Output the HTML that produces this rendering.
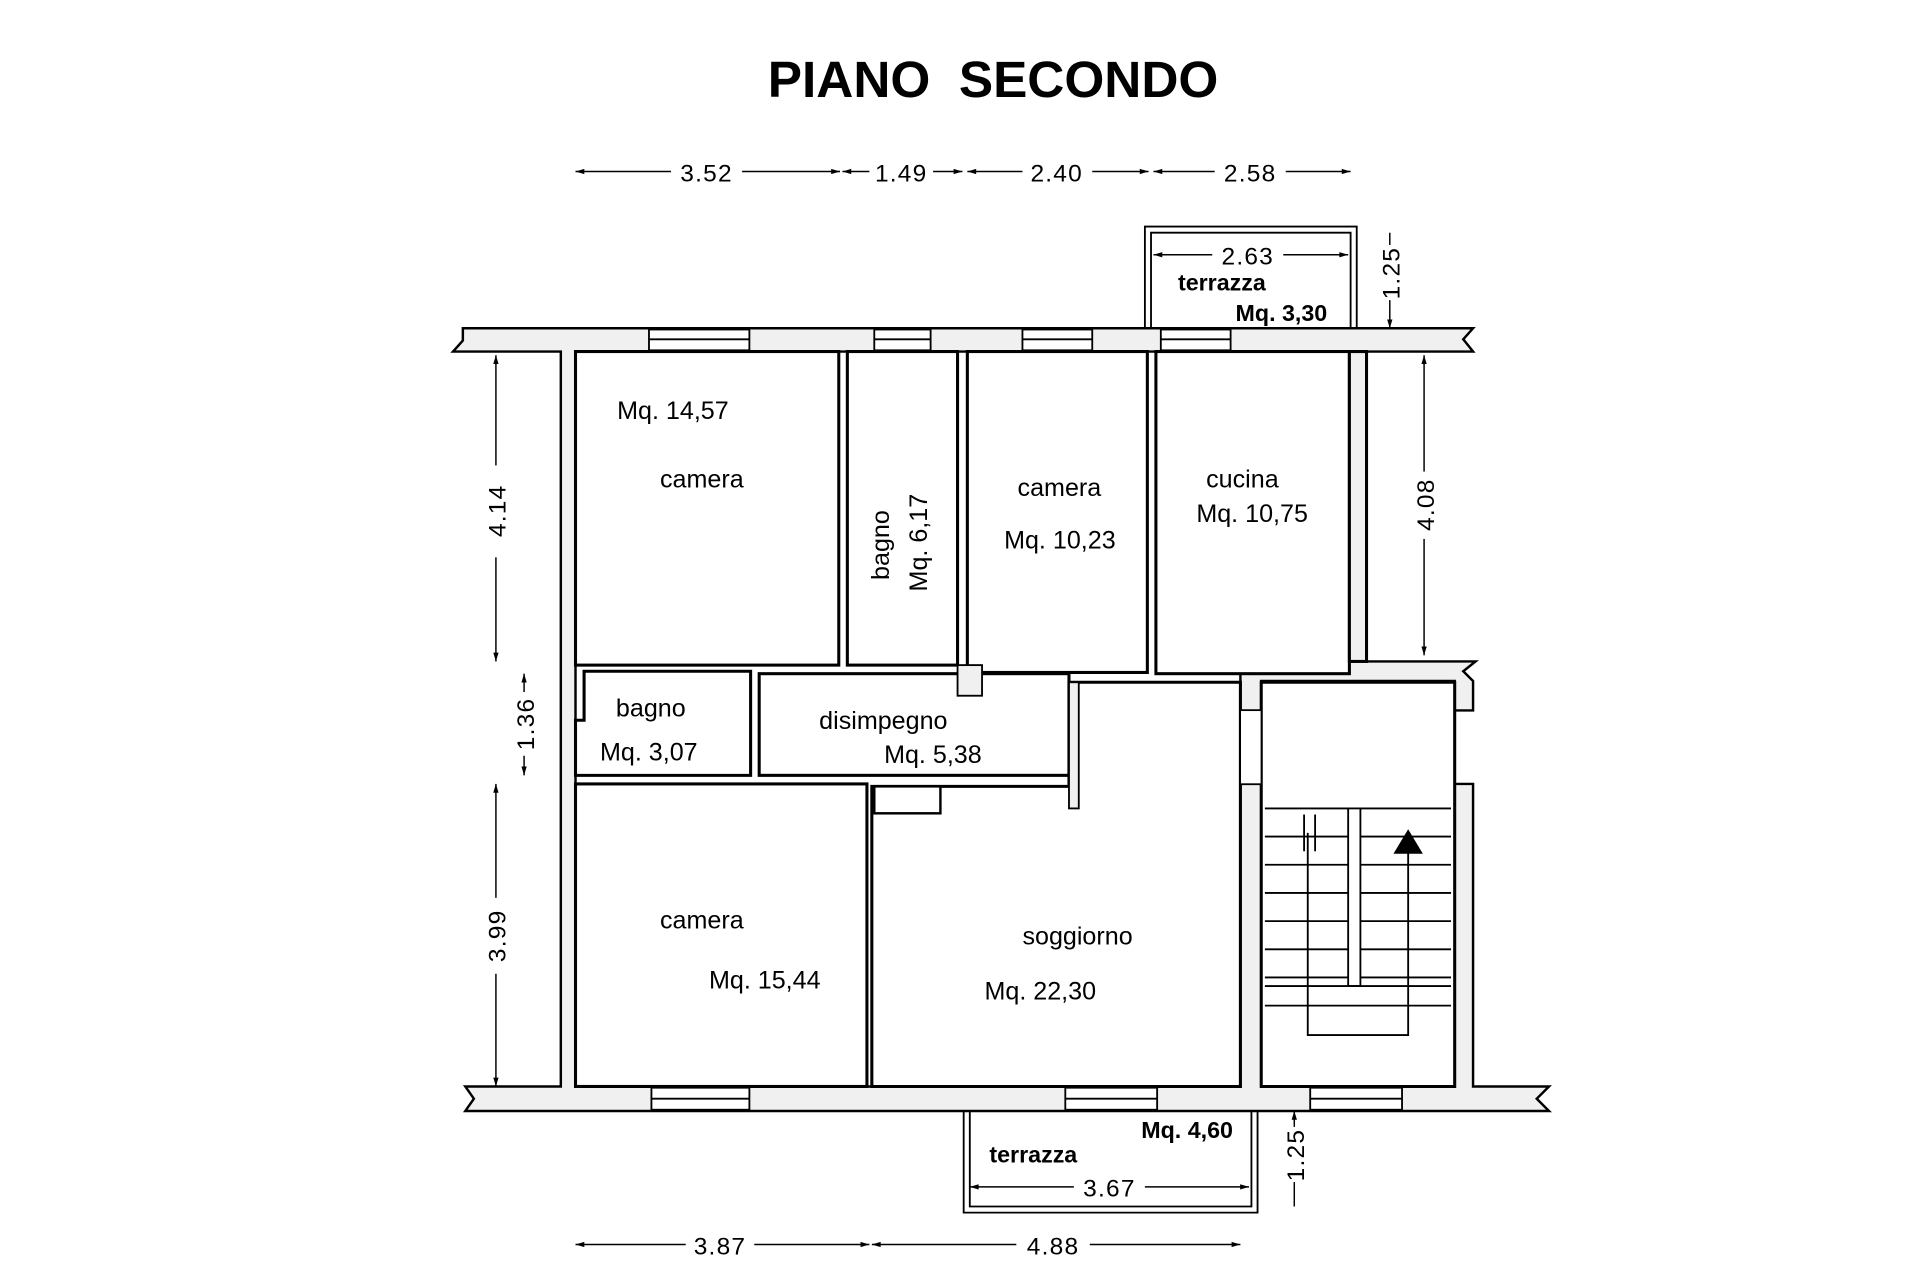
<!DOCTYPE html>
<html><head><meta charset="utf-8"><style>
html,body{margin:0;padding:0;background:#fff;width:1920px;height:1280px;overflow:hidden}
svg{display:block}
text{font-family:"Liberation Sans",Arial,sans-serif;fill:#000}
.d{font-size:20px;letter-spacing:1px}
.l{font-size:20.5px}
</style></head><body>
<svg width="1920" height="1280" viewBox="0 0 1568 1045" preserveAspectRatio="none" xmlns="http://www.w3.org/2000/svg">
<defs>
<marker id="a" viewBox="0 0 10 10" refX="10" refY="5" markerWidth="8" markerHeight="6" orient="auto-start-reverse"><path d="M0,2 L10,5 L0,8 z" fill="#000"/></marker>
</defs>
<text x="627" y="79" font-size="42" font-weight="bold" textLength="368" lengthAdjust="spacingAndGlyphs" xml:space="preserve">PIANO  SECONDO</text>

<g fill="#f0f0f0" stroke="#000" stroke-width="2">
<path d="M378,268 L1203,268 L1195,277 L1203,287 L1116,287 L1116,540 L1205,540 L1195,548 L1203,556 L1203,580 L1188,580 L1188,556 L1030,556 L1030,580 L1013,580 L1013,287 L470,287 L470,887 L1013,887 L1013,640 L1030,640 L1030,887 L1188,887 L1188,640 L1203,640 L1203,887 L1265,887 L1255,897 L1265,907 L380,907 L387,897 L380,887 L458,887 L458,287 L370,287 L378,278 Z"/>
</g>
<g fill="#fff" stroke="#000" stroke-width="2.5">
<rect x="470" y="287" width="215" height="256"/>
<rect x="692" y="287" width="90" height="256"/>
<rect x="790" y="287" width="147" height="262"/>
<rect x="944" y="287" width="158" height="263"/>
<path d="M477,548 L613,548 L613,633 L470,633 L470,588 L477,588 Z"/>
<rect x="620" y="550" width="253" height="83"/>
<rect x="470" y="640" width="238" height="247"/>
<path d="M712,642 L873,642 L873,557 L1013,557 L1013,887 L712,887 Z"/>
<path d="M1030,557 L1188,557 L1188,580 L1188,887 L1030,887 Z"/>
<rect x="1102" y="287" width="14" height="253" fill="#f0f0f0"/>
</g>
<rect x="1013" y="580" width="17" height="60" fill="#fff" stroke="#000" stroke-width="1"/>
<rect x="714" y="642" width="54" height="22" fill="#fff" stroke="#000" stroke-width="2"/>
<rect x="873" y="557" width="8" height="103" fill="#f0f0f0" stroke="#000" stroke-width="1.5"/>
<rect x="782" y="543" width="20" height="25" fill="#f0f0f0" stroke="#000" stroke-width="1.5"/>
<g fill="#fff" stroke="#000" stroke-width="1.5">
<rect x="530" y="269" width="82" height="17"/><line x1="530" y1="277" x2="612" y2="277"/>
<rect x="714" y="269" width="46" height="17"/><line x1="714" y1="277" x2="760" y2="277"/>
<rect x="835" y="269" width="57" height="17"/><line x1="835" y1="277" x2="892" y2="277"/>
<rect x="948" y="269" width="57" height="17"/><line x1="948" y1="277" x2="1005" y2="277"/>
<rect x="532" y="888" width="80" height="18"/><line x1="532" y1="897" x2="612" y2="897"/>
<rect x="870" y="888" width="75" height="18"/><line x1="870" y1="897" x2="945" y2="897"/>
<rect x="1070" y="888" width="75" height="18"/><line x1="1070" y1="897" x2="1145" y2="897"/>
</g>
<g fill="none" stroke="#000" stroke-width="1.5">
<path d="M935,268 L935,185 L1108,185 L1108,268"/><path d="M940,268 L940,190 L1103,190 L1103,268"/>
<path d="M787,907 L787,990 L1027,990 L1027,907"/><path d="M792,907 L792,985 L1022,985 L1022,907"/>
</g>
<g stroke="#000" stroke-width="1.5" fill="none">
<line x1="1033" y1="660" x2="1185" y2="660"/><line x1="1033" y1="683" x2="1185" y2="683"/>
<line x1="1033" y1="706" x2="1185" y2="706"/><line x1="1033" y1="729" x2="1185" y2="729"/>
<line x1="1033" y1="752" x2="1185" y2="752"/><line x1="1033" y1="775" x2="1185" y2="775"/>
<line x1="1033" y1="798" x2="1185" y2="798"/><line x1="1033" y1="821" x2="1185" y2="821"/>
<rect x="1101" y="660" width="10" height="145" fill="#fff"/>
<line x1="1033" y1="805" x2="1185" y2="805"/>
<path d="M1068,680 L1068,845 L1150,845 L1150,695"/>
<line x1="1065" y1="665" x2="1065" y2="695"/><line x1="1074" y1="665" x2="1074" y2="695"/>
</g>
<path d="M1138,697 L1150,677 L1162,697 Z" fill="#000"/>
<g stroke="#000" stroke-width="1.2" fill="none">
<line x1="470" y1="140" x2="548" y2="140" marker-start="url(#a)"/><line x1="606" y1="140" x2="686" y2="140" marker-end="url(#a)"/>
<line x1="688" y1="140" x2="710" y2="140" marker-start="url(#a)"/><line x1="762" y1="140" x2="786" y2="140" marker-end="url(#a)"/>
<line x1="790" y1="140" x2="835" y2="140" marker-start="url(#a)"/><line x1="892" y1="140" x2="938" y2="140" marker-end="url(#a)"/>
<line x1="942" y1="140" x2="992" y2="140" marker-start="url(#a)"/><line x1="1050" y1="140" x2="1103" y2="140" marker-end="url(#a)"/>
<line x1="942" y1="208" x2="990" y2="208" marker-start="url(#a)"/><line x1="1048" y1="208" x2="1101" y2="208" marker-end="url(#a)"/>
<line x1="405" y1="290" x2="405" y2="380" marker-start="url(#a)"/><line x1="405" y1="455" x2="405" y2="540" marker-end="url(#a)"/>
<line x1="428" y1="550" x2="428" y2="565" marker-start="url(#a)"/><line x1="428" y1="617" x2="428" y2="633" marker-end="url(#a)"/>
<line x1="405" y1="640" x2="405" y2="733" marker-start="url(#a)"/><line x1="405" y1="795" x2="405" y2="887" marker-end="url(#a)"/>
<line x1="1163" y1="290" x2="1163" y2="385" marker-start="url(#a)"/><line x1="1163" y1="440" x2="1163" y2="535" marker-end="url(#a)"/>
<line x1="1135" y1="190" x2="1135" y2="200"/><line x1="1135" y1="245" x2="1135" y2="268" marker-end="url(#a)"/>
<line x1="1057" y1="907" x2="1057" y2="920" marker-start="url(#a)"/><line x1="1057" y1="965" x2="1057" y2="985"/>
<line x1="470" y1="1016" x2="560" y2="1016" marker-start="url(#a)"/><line x1="616" y1="1016" x2="710" y2="1016" marker-end="url(#a)"/>
<line x1="712" y1="1016" x2="830" y2="1016" marker-start="url(#a)"/><line x1="890" y1="1016" x2="1013" y2="1016" marker-end="url(#a)"/>
<line x1="792" y1="969" x2="877" y2="969" marker-start="url(#a)"/><line x1="935" y1="969" x2="1020" y2="969" marker-end="url(#a)"/>
</g>
<g class="d">
<text x="577" y="148" text-anchor="middle">3.52</text>
<text x="736" y="148" text-anchor="middle">1.49</text>
<text x="863" y="148" text-anchor="middle">2.40</text>
<text x="1021" y="148" text-anchor="middle">2.58</text>
<text x="1019" y="216" text-anchor="middle">2.63</text>
<text x="588" y="1024" text-anchor="middle">3.87</text>
<text x="860" y="1024" text-anchor="middle">4.88</text>
<text x="906" y="977" text-anchor="middle">3.67</text>
<text transform="translate(413,417) rotate(-90)" text-anchor="middle">4.14</text>
<text transform="translate(436,591) rotate(-90)" text-anchor="middle">1.36</text>
<text transform="translate(413,764) rotate(-90)" text-anchor="middle">3.99</text>
<text transform="translate(1171,412) rotate(-90)" text-anchor="middle">4.08</text>
<text transform="translate(1143,223) rotate(-90)" text-anchor="middle">1.25</text>
<text transform="translate(1065,943) rotate(-90)" text-anchor="middle">1.25</text>
</g>
<g class="l">
<text x="504" y="342">Mq. 14,57</text>
<text x="539" y="398">camera</text>
<text transform="translate(726,445) rotate(-90)" text-anchor="middle">bagno</text>
<text transform="translate(757,443) rotate(-90)" text-anchor="middle">Mq. 6,17</text>
<text x="831" y="405">camera</text>
<text x="820" y="448">Mq. 10,23</text>
<text x="985" y="398">cucina</text>
<text x="977" y="426">Mq. 10,75</text>
<text x="503" y="585">bagno</text>
<text x="490" y="621">Mq. 3,07</text>
<text x="669" y="595">disimpegno</text>
<text x="722" y="623">Mq. 5,38</text>
<text x="539" y="758">camera</text>
<text x="579" y="807">Mq. 15,44</text>
<text x="835" y="771">soggiorno</text>
<text x="804" y="816">Mq. 22,30</text>
<text x="962" y="237" font-weight="bold" font-size="19">terrazza</text>
<text x="1009" y="262" font-weight="bold" font-size="19">Mq. 3,30</text>
<text x="932" y="929" font-weight="bold" font-size="19">Mq. 4,60</text>
<text x="808" y="949" font-weight="bold" font-size="19">terrazza</text>
</g>
</svg>
</body></html>
